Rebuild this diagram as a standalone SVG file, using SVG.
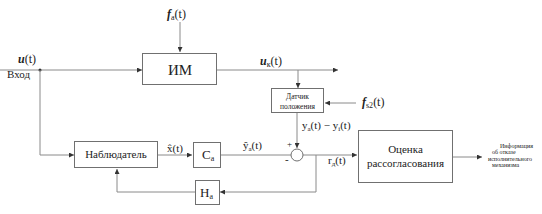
<svg xmlns="http://www.w3.org/2000/svg" width="542" height="214" viewBox="0 0 542 214" font-family="'Liberation Serif','Tinos','Times New Roman','DejaVu Serif',serif">
<style>
.box{fill:#fff;stroke:#707070;stroke-width:1}
.ln{fill:none;stroke:#8a8a8a;stroke-width:1}
text{font-family:'Liberation Serif','Tinos','Times New Roman','DejaVu Serif',serif;fill:#222}
.bi{font-weight:bold;font-style:italic}
</style>
<defs>
<marker id="ar" viewBox="0 0 6 6" refX="6" refY="3" markerWidth="5" markerHeight="5" orient="auto" markerUnits="userSpaceOnUse">
<path d="M0,0 L6,3 L0,6 z" fill="#333"/>
</marker>
</defs>
<rect width="542" height="214" fill="#fff"/>
<g id="connectors">
<path class="ln" d="M0,70 H142" marker-end="url(#ar)"/>
<circle cx="40" cy="70" r="1.5" fill="#333"/>
<path class="ln" d="M40,70 V155 H74" marker-end="url(#ar)"/>
<path class="ln" d="M180,22 V52" marker-end="url(#ar)"/>
<path class="ln" d="M217,70 H338" marker-end="url(#ar)"/>
<path class="ln" d="M298,70 V88" marker-end="url(#ar)"/>
<path class="ln" d="M356,103 H325" marker-end="url(#ar)"/>
<path class="ln" d="M297,113 V148" marker-end="url(#ar)"/>
<path class="ln" d="M158,155 H192" marker-end="url(#ar)"/>
<path class="ln" d="M220,155 H291"/>
<path class="ln" d="M303,155 H357" marker-end="url(#ar)"/>
<path class="ln" d="M316,155 V192 H220" marker-end="url(#ar)"/>
<path class="ln" d="M195,192 H117 V169" marker-end="url(#ar)"/>
<path class="ln" d="M452,157 H482" marker-end="url(#ar)"/>
</g>
<g id="labels">
<text x="18" y="63" font-size="12"><tspan class="bi">u</tspan>(t)</text>
<text x="7" y="78" font-size="11">Вход</text>
<text x="167" y="18" font-size="12"><tspan class="bi">f</tspan><tspan font-size="8" dy="2">a</tspan><tspan dy="-2">(t)</tspan></text>
<text x="260" y="65" font-size="12"><tspan class="bi">u</tspan><tspan font-size="8" dy="2">к</tspan><tspan dy="-2">(t)</tspan></text>
<text x="362" y="106" font-size="12"><tspan class="bi">f</tspan><tspan font-size="8" dy="2">s2</tspan><tspan dy="-2">(t)</tspan></text>
<text x="302" y="129" font-size="11">y<tspan font-size="7" dy="2">a</tspan><tspan dy="-2">(t) − y</tspan><tspan font-size="7" dy="2">i</tspan><tspan dy="-2">(t)</tspan></text>
<text x="287" y="147" font-size="9">+</text>
<text x="285" y="163" font-size="11">-</text>
<text x="328" y="164" font-size="11">r<tspan font-size="7" dy="2">д</tspan><tspan dy="-2">(t)</tspan></text>
<text x="167" y="152" font-size="11">x̂(t)</text>
<text x="243" y="149" font-size="11">ŷ<tspan font-size="7" dy="2">a</tspan><tspan dy="-2">(t)</tspan></text>
<text x="500" y="148" font-size="6">Информация</text>
<text x="492" y="154" font-size="6">об отказе</text>
<text x="488" y="161" font-size="6">исполнительного</text>
<text x="492" y="167" font-size="6">механизма</text>
</g>
<g id="im">
<rect class="box" x="142.5" y="53.5" width="74" height="31"/>
<text x="180" y="75" font-size="15" text-anchor="middle">ИМ</text>
</g>
<g id="datchik">
<rect class="box" x="271.5" y="88.5" width="52" height="24"/>
<text x="297.5" y="99" font-size="7.5" text-anchor="middle">Датчик</text>
<text x="297.5" y="109" font-size="7.5" text-anchor="middle">положения</text>
</g>
<g id="sum">
<circle cx="297" cy="155" r="6" fill="#fff" stroke="#707070"/>
</g>
<g id="observer">
<rect class="box" x="74.5" y="141.5" width="83" height="26"/>
<text x="116" y="158" font-size="11" text-anchor="middle">Наблюдатель</text>
</g>
<g id="ca">
<rect class="box" x="193.5" y="142.5" width="27" height="25"/>
<text x="202" y="159" font-size="13">C<tspan font-size="8" dy="2">a</tspan></text>
</g>
<g id="ha">
<rect class="box" x="195.5" y="180.5" width="24" height="24"/>
<text x="200" y="197" font-size="13">H<tspan font-size="8" dy="2">a</tspan></text>
</g>
<g id="ocenka">
<rect class="box" x="358.5" y="130.5" width="94" height="52"/>
<text x="405.5" y="153" font-size="11" text-anchor="middle">Оценка</text>
<text x="405.5" y="167" font-size="11" text-anchor="middle">рассогласования</text>
</g>
</svg>
